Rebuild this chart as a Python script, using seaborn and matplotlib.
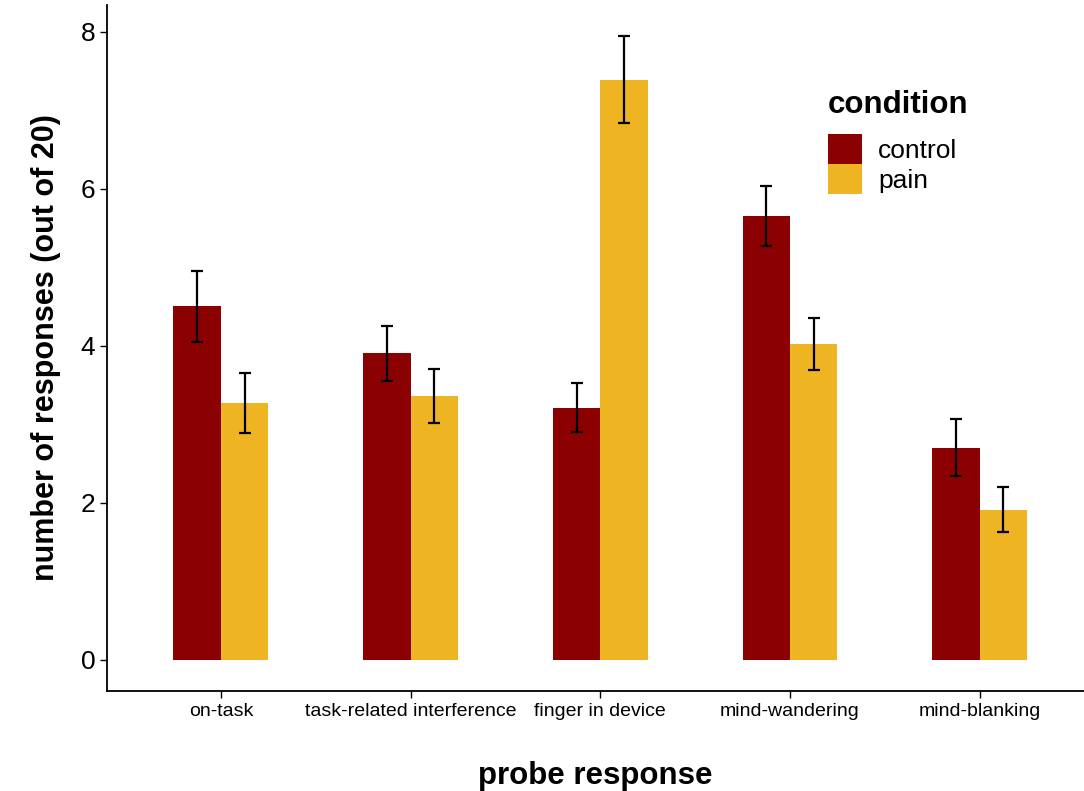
import matplotlib
matplotlib.use("Agg")
import matplotlib.pyplot as plt
import seaborn as sns
import pandas as pd
import numpy as np

categories = ["on-task", "task-related interference", "finger in device",
              "mind-wandering", "mind-blanking"]
conditions = ["control", "pain"]
control_mean = [4.50, 3.90, 3.21, 5.65, 2.70]
pain_mean = [3.27, 3.36, 7.39, 4.02, 1.91]
control_se = [0.45, 0.35, 0.31, 0.38, 0.36]
pain_se = [0.38, 0.34, 0.55, 0.33, 0.29]
yticks = [0, 2, 4, 6, 8]

colors = {"control": "#8B0000", "pain": "#EEB422"}

df = pd.DataFrame({
    "probe": categories * 2,
    "condition": ["control"] * 5 + ["pain"] * 5,
    "mean": control_mean + pain_mean,
    "se": control_se + pain_se,
})

sns.set_theme(style="white")
plt.rcParams["font.family"] = ["Liberation Sans", "DejaVu Sans"]
plt.rcParams["text.color"] = "black"
plt.rcParams["axes.labelcolor"] = "black"

fig = plt.figure(figsize=(10.84, 7.91), dpi=100)
ax = fig.add_axes([107 / 1084, 1 - 691 / 791, 1 - 107 / 1084, (691 - 5) / 791])

sns.barplot(data=df, x="probe", y="mean", hue="condition", order=categories,
            hue_order=conditions, palette=colors, width=0.5, errorbar=None,
            saturation=1, ax=ax, linewidth=0)

for cont, cond in zip(ax.containers, conditions):
    sub = df[df["condition"] == cond].set_index("probe").loc[categories]
    xs = [b.get_x() + b.get_width() / 2 for b in cont]
    ax.errorbar(xs, sub["mean"].values, yerr=sub["se"].values, fmt="none",
                ecolor="black", elinewidth=1.6, capsize=4.5, capthick=1.6, zorder=5)

ax.set_xlim(-0.6, 4.55)
ax.set_ylim(-0.4, 8.34)
ax.set_yticks(yticks)
ax.set_yticklabels([str(t) for t in yticks], fontsize=19, color="black")
ax.tick_params(axis="x", labelsize=14, colors="black", length=5, width=1, bottom=True, labelcolor="black")
ax.tick_params(axis="y", length=5, width=1, left=True, colors="black")
for lbl in ax.get_xticklabels():
    lbl.set_color("black")

for s in ["top", "right"]:
    ax.spines[s].set_visible(False)
for s in ["left", "bottom"]:
    ax.spines[s].set_color("black")
    ax.spines[s].set_linewidth(1.3)

ax.set_xlabel("probe response", fontsize=22.5, fontweight="bold", labelpad=30, color="black")
ax.set_ylabel("number of responses (out of 20)", fontsize=22, fontweight="bold", labelpad=14, color="black")

leg = ax.legend(title="condition", loc="upper left", bbox_to_anchor=((828 - 107) / 977, (691 - 90) / 686),
                frameon=False, fontsize=19, title_fontsize=22.5, handlelength=1.3,
                handleheight=1.38, handletextpad=0.6, labelspacing=0.0, borderpad=0,
                borderaxespad=0)
leg.get_title().set_fontweight("bold")
leg.get_title().set_color("black")
for t in leg.get_texts():
    t.set_color("black")
leg._legend_box.align = "left"
leg._legend_box.sep = 10

fig.savefig("out.png", dpi=100)
